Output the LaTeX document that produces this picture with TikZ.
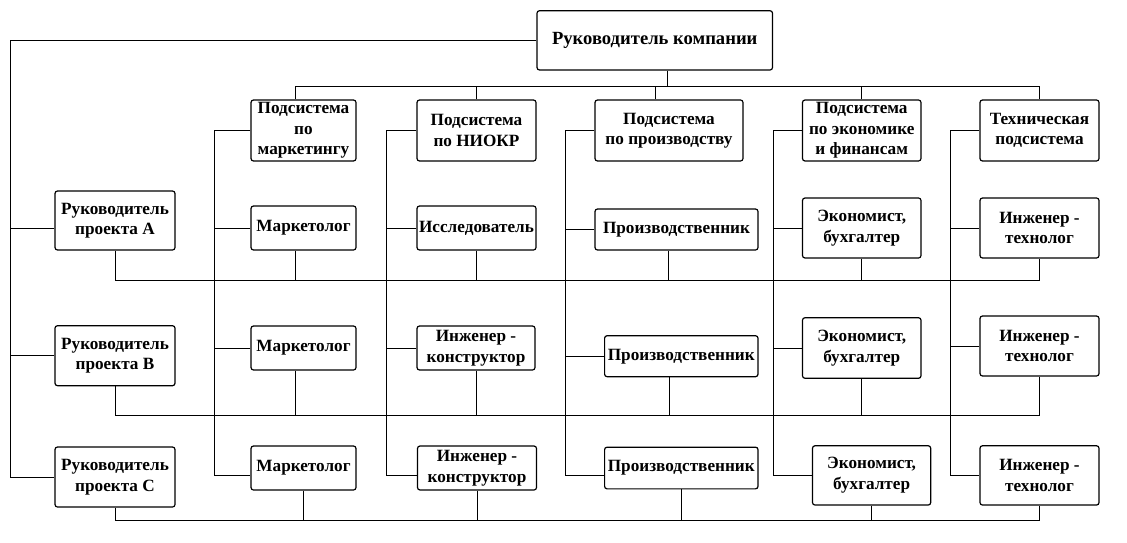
\documentclass[tikz,border=0pt]{standalone}
\usepackage{fontspec}
\setmainfont{Liberation Serif}
\usepackage{tikz}

\begin{document}
\begin{tikzpicture}[x=1pt,y=-1pt,line width=1pt,
	box/.style={draw,line width=1.2pt,rounded corners=2.5pt,align=center,inner sep=0pt,
		font=\fontsize{17.2}{20.5}\selectfont\bfseries}]
  \useasboundingbox (0,0) rectangle (1127,543);

  % heads
  \node[box,minimum width=235.5pt,minimum height=59.3pt,font=\fontsize{18.6}{21}\selectfont\bfseries]	(top) at (654.75,40.35)	{Руководитель компании};
  \node[box,minimum width=120pt,minimum height=59pt]	(pA) at (115,220.5)	{Руководитель\\проекта А};
  \node[box,minimum width=120pt,minimum height=60pt]	(pB) at (115,355.7)	{Руководитель\\проекта В};
  \node[box,minimum width=120pt,minimum height=60pt]	(pC) at (115,477)	{Руководитель\\проекта С};

  % subsystems
  \node[box,minimum width=105pt,minimum height=61pt]	(sM) at (303.5,130.5)	{Подсистема\\по\\маркетингу};
  \node[box,minimum width=119pt,minimum height=61pt]	(sN) at (476.5,130.5)	{Подсистема\\по НИОКР};
  \node[box,minimum width=148pt,minimum height=61pt]	(sP) at (669,130.5)	{Подсистема\\по производству};
  \node[box,minimum width=118.5pt,minimum height=61pt]	(sE) at (861.75,130.5)	{Подсистема\\по экономике\\и финансам};
  \node[box,minimum width=119pt,minimum height=61pt]	(sT) at (1039.5,130.5)	{Техническая\\подсистема};

  % project A
  \node[box,minimum width=105pt,minimum height=44pt]	(M1) at (303.5,228)	{Маркетолог};
  \node[box,minimum width=119pt,minimum height=44pt]	(N1) at (476.5,228)	{Исследователь};
  \node[box,minimum width=163pt,minimum height=41pt]	(P1) at (676.5,229.5)	{Производственник};
  \node[box,minimum width=118.5pt,minimum height=60pt]	(E1) at (861.75,228)	{Экономист,\\бухгалтер};
  \node[box,minimum width=119pt,minimum height=60pt]	(T1) at (1039.5,228)	{Инженер -\\технолог};

  % project B
  \node[box,minimum width=105pt,minimum height=44pt]	(M2) at (303.5,348)	{Маркетолог};
  \node[box,minimum width=118pt,minimum height=44pt]	(N2) at (476,348)	{Инженер -\\конструктор};
  \node[box,minimum width=153.4pt,minimum height=41pt]	(P2) at (681.3,356.2)	{Производственник};
  \node[box,minimum width=118.5pt,minimum height=60.6pt]	(E2) at (861.75,348)	{Экономист,\\бухгалтер};
  \node[box,minimum width=119pt,minimum height=60pt]	(T2) at (1039.5,346)	{Инженер -\\технолог};

  % project C
  \node[box,minimum width=105pt,minimum height=44pt]	(M3) at (303.5,468)	{Маркетолог};
  \node[box,minimum width=119pt,minimum height=44pt]	(N3) at (477,468)	{Инженер -\\конструктор};
  \node[box,minimum width=153.4pt,minimum height=41.7pt]	(P3) at (681.3,468)	{Производственник};
  \node[box,minimum width=118.2pt,minimum height=59.3pt]	(E3) at (871.6,475.4)	{Экономист,\\бухгалтер};
  \node[box,minimum width=119pt,minimum height=59.3pt]	(T3) at (1039.5,475.4)	{Инженер -\\технолог};

  \coordinate (trunk) at (10.7,477);
  \coordinate (busT) at (0,86);
  \coordinate (rowA) at (0,280);
  \coordinate (rowB) at (0,415);
  \coordinate (rowC) at (0,520);
  \coordinate (brM) at (214.6,475);
  \coordinate (brN) at (386,475);
  \coordinate (brP) at (565,475);
  \coordinate (brE) at (773,475);
  \coordinate (brT) at (950,475);

  % chief to project leaders
  \draw (top.west) -| (trunk) -- (pC.west);
  \path	(pB.west) edge (pB.west -| trunk)
		([yshift=-7.5pt]pA.west) edge ([yshift=-7.5pt]pA.west -| trunk);

  % chief to subsystems
  \draw ([xshift=-8.5pt]sM.north) |- (sT.north |- busT) -- (sT.north);
  \path	([xshift=13pt]top.south) edge ([xshift=13pt]top.south |- busT)
		(sN.north) edge (sN.north |- busT)
		([xshift=-14pt]sP.north) edge ([xshift=-14pt]sP.north |- busT)
		(sE.north) edge (sE.north |- busT);

  % subsystems to staff
  \draw (sM.west) -| (brM) -- (brM -| M3.west);
  \draw (sN.west) -| (brN) -- (brN -| N3.west);
  \draw (sP.west) -| (brP) -- (brP -| P3.west);
  \draw (sE.west) -| (brE) -- (brE -| E3.west);
  \draw (sT.west) -| (brT) -- (brT -| T3.west);
  \path	(M1.west) edge (M1.west -| brM)
		(M2.west) edge (M2.west -| brM)
		(N1.west) edge (N1.west -| brN)
		(N2.west) edge (N2.west -| brN)
		(P1.west) edge (P1.west -| brP)
		(P2.west) edge (P2.west -| brP)
		(E1.west) edge (E1.west -| brE)
		(E2.west) edge (E2.west -| brE)
		(T1.west) edge (T1.west -| brT)
		(T2.west) edge (T2.west -| brT);

  % project teams
  \draw (pA.south) |- (T1.south |- rowA) -- (T1.south);
  \path	([xshift=-8.5pt]M1.south) edge ([xshift=-8.5pt]M1.south |- rowA)
		(N1.south) edge (N1.south |- rowA)
		([xshift=-8.5pt]P1.south) edge ([xshift=-8.5pt]P1.south |- rowA)
		(E1.south) edge (E1.south |- rowA);

  \draw (pB.south) |- (T2.south |- rowB) -- (T2.south);
  \path	([xshift=-8.5pt]M2.south) edge ([xshift=-8.5pt]M2.south |- rowB)
		(N2.south) edge (N2.south |- rowB)
		([xshift=-12pt]P2.south) edge ([xshift=-12pt]P2.south |- rowB)
		(E2.south) edge (E2.south |- rowB);

  \draw (pC.south) |- (T3.south |- rowC) -- (T3.south);
  \path	(M3.south) edge (M3.south |- rowC)
		(N3.south) edge (N3.south |- rowC)
		(P3.south) edge (P3.south |- rowC)
		(E3.south) edge (E3.south |- rowC);
\end{tikzpicture}
\end{document}
